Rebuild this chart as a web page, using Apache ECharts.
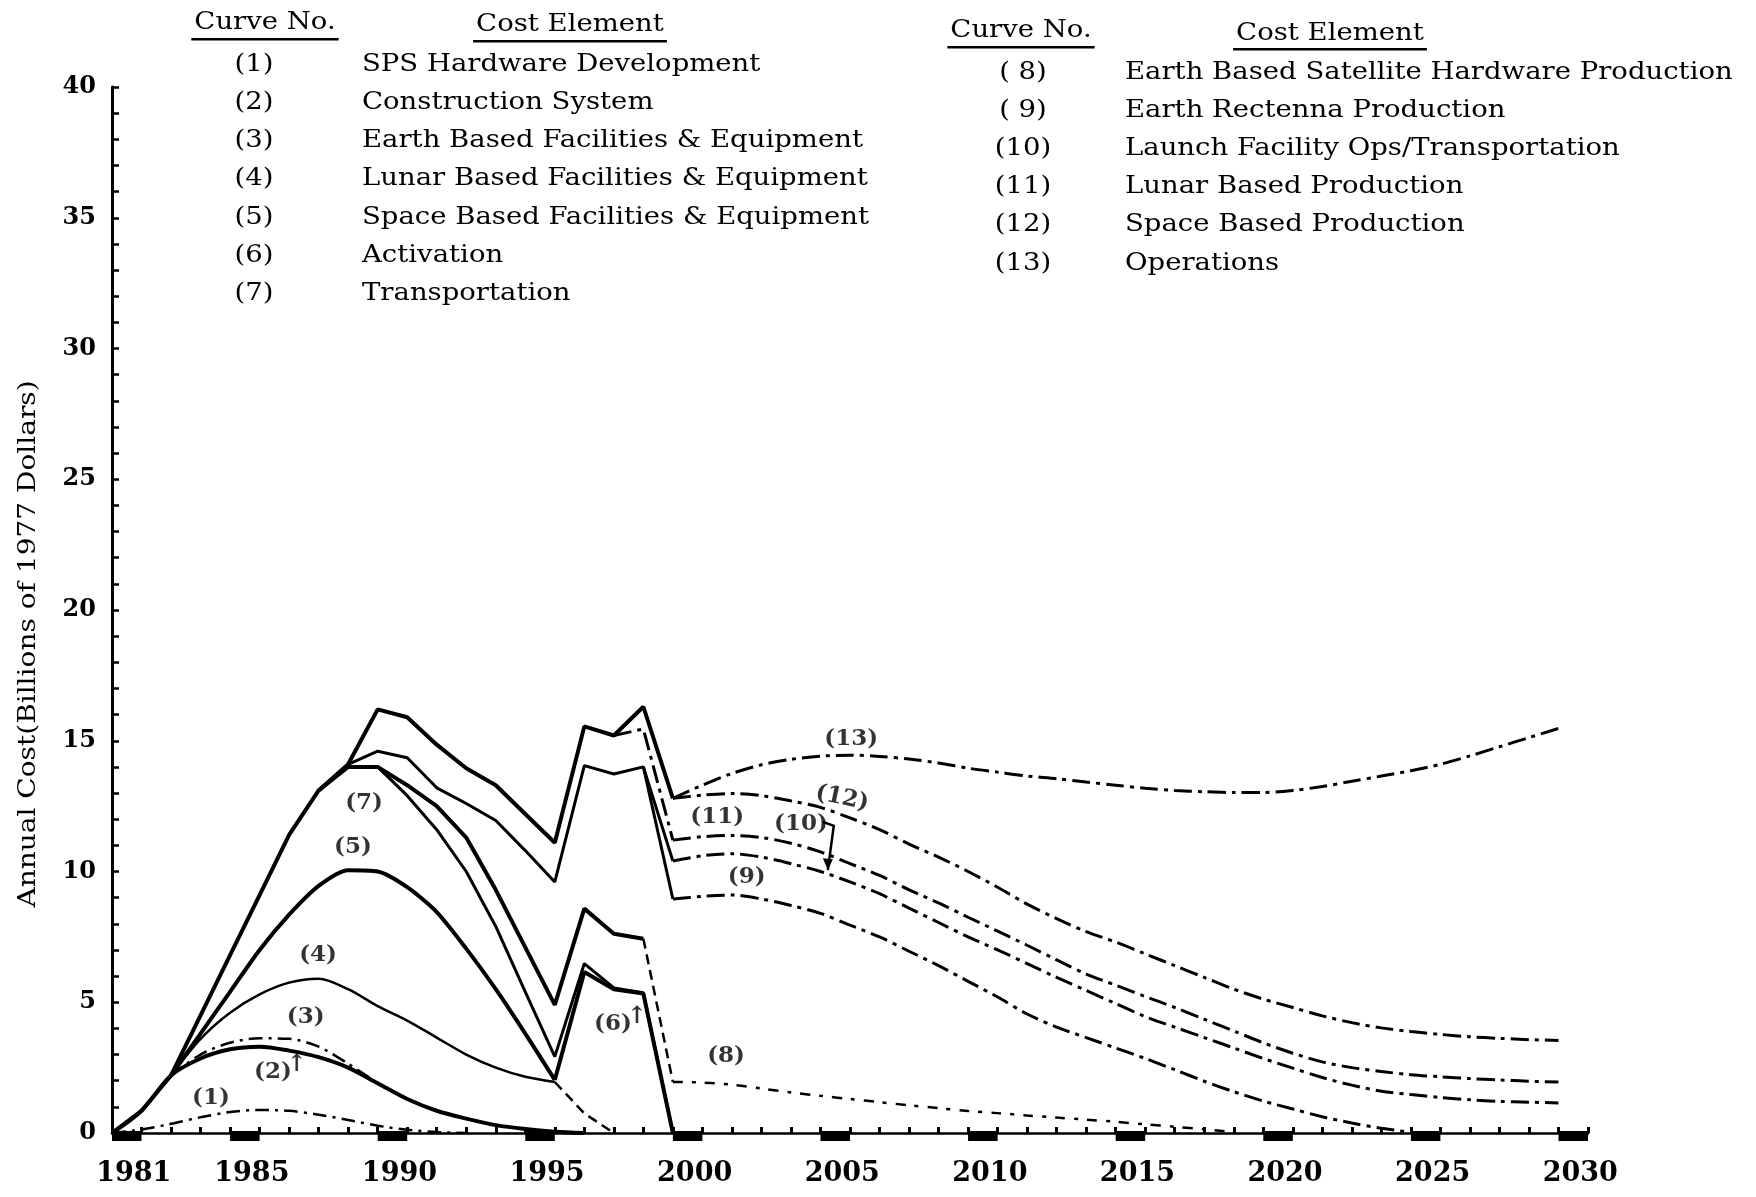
<!DOCTYPE html>
<html>
<head>
<meta charset="utf-8">
<title>SPS Annual Cost</title>
<script src="https://cdn.jsdelivr.net/npm/echarts@6/dist/echarts.min.js"></script>
<style>
  html, body { margin: 0; padding: 0; background: #fff; }
  #chart { width: 1756px; height: 1197px; }
</style>
</head>
<body>
<div id="chart"></div>
<script>
// years on the x axis, one value per year, null where a curve runs on top of another one
var years = [1981, 1982, 1983, 1984, 1985, 1986, 1987, 1988, 1989, 1990,
             1991, 1992, 1993, 1994, 1995, 1996, 1997, 1998, 1999, 2000,
             2001, 2002, 2003, 2004, 2005, 2006, 2007, 2008, 2009, 2010,
             2011, 2012, 2013, 2014, 2015, 2016, 2017, 2018, 2019, 2020,
             2021, 2022, 2023, 2024, 2025, 2026, 2027, 2028, 2029, 2030];
var labelYears = [1981, 1985, 1990, 1995, 2000, 2005, 2010, 2015, 2020, 2025, 2030];
var majorYears = [1981, 1985, 1990, 1995, 2000, 2005, 2010, 2015, 2020, 2025, 2030];

var N = null;
// cumulative cost lines (billions of 1977 dollars)
var curve1 = [0, 0.13, 0.35, 0.6, 0.8, 0.88, 0.85, 0.7, 0.5, 0.28,
              0.12, 0.04, 0, N, N, N, N, N, N, N,
              N, N, N, N, N, N, N, N, N, N, N, N, N, N, N, N, N, N, N, N, N, N, N, N, N, N, N, N, N, N];
var curve2 = [0, 0.85, 2.2, 2.85, 3.2, 3.3, 3.15, 2.9, 2.5, 1.9,
              1.3, 0.85, 0.55, 0.3, 0.15, 0.05, 0, N, N, N,
              N, N, N, N, N, N, N, N, N, N, N, N, N, N, N, N, N, N, N, N, N, N, N, N, N, N, N, N, N, N];
var curve3 = [N, N, 2.2, 3.0, 3.45, 3.62, 3.6, 3.3, 2.65, 1.9,
              N, N, N, N, N, N, N, N, N, N,
              N, N, N, N, N, N, N, N, N, N, N, N, N, N, N, N, N, N, N, N, N, N, N, N, N, N, N, N, N, N];
var curve4 = [N, N, 2.2, 3.6, 4.6, 5.3, 5.75, 5.9, 5.5, 4.85,
              4.3, 3.65, 3.0, 2.5, 2.15, 1.95, 0.75, 0, N, N,
              N, N, N, N, N, N, N, N, N, N, N, N, N, N, N, N, N, N, N, N, N, N, N, N, N, N, N, N, N, N];
var curve5 = [N, N, 2.2, 3.8, 5.4, 7.0, 8.35, 9.45, 10.05, 10.0,
              9.4, 8.45, 7.05, 5.5, 3.8, 2.03, 6.16, 5.5, 5.33, 0,
              N, N, N, N, N, N, N, N, N, N, N, N, N, N, N, N, N, N, N, N, N, N, N, N, N, N, N, N, N, N];
var curve6 = [N, N, N, N, N, N, N, N, N, 14.0,
              12.9, 11.6, 10.0, 7.9, 5.4, 2.92, 6.48, 5.55, 5.36, 0,
              N, N, N, N, N, N, N, N, N, N, N, N, N, N, N, N, N, N, N, N, N, N, N, N, N, N, N, N, N, N];
var curve7 = [N, N, N, N, N, N, N, 13.1, 14.0, 14.0,
              13.3, 12.5, 11.3, 9.3, 7.1, 4.9, 8.58, 7.62, 7.43, N,
              N, N, N, N, N, N, N, N, N, N, N, N, N, N, N, N, N, N, N, N, N, N, N, N, N, N, N, N, N, N];
var curve8 = [N, N, N, N, N, N, N, N, N, N,
              N, N, N, N, N, N, N, N, 7.43, 1.95,
              1.93, 1.85, 1.7, 1.55, 1.42, 1.3, 1.18, 1.06, 0.95, 0.84,
              0.76, 0.67, 0.59, 0.51, 0.43, 0.33, 0.24, 0.14, 0.03, N,
              N, N, N, N, N, N, N, N, N, N];
var curve9 = [N, N, N, N, N, N, N, N, N, N,
              N, N, N, N, N, N, N, N, 14.0, 8.95,
              9.05, 9.1, 8.95, 8.7, 8.4, 7.95, 7.5, 6.95, 6.4, 5.8,
              5.2, 4.55, 4.05, 3.65, 3.25, 2.85, 2.42, 1.98, 1.58, 1.22,
              0.92, 0.62, 0.38, 0.18, 0.03, N, N, N, N, N];
var curve10 = [N, N, N, N, N, N, N, N, 14.1, 14.6,
               14.35, 13.2, 12.6, 11.95, 10.8, 9.6, 14.05, 13.73, 14.0, 10.4,
               10.6, 10.68, 10.55, 10.3, 10.0, 9.6, 9.15, 8.6, 8.05, 7.5,
               7.0, 6.48, 5.95, 5.45, 4.95, 4.45, 4.05, 3.65, 3.25, 2.85,
               2.48, 2.12, 1.83, 1.6, 1.47, 1.36, 1.27, 1.21, 1.18, 1.15];
var curve11 = [N, N, N, N, N, N, N, N, N, N,
               N, N, N, N, N, N, N, 15.2, 15.45, 11.2,
               11.33, 11.38, 11.3, 11.08, 10.75, 10.3, 9.85, 9.3, 8.8, 8.25,
               7.72, 7.18, 6.62, 6.08, 5.65, 5.22, 4.8, 4.35, 3.9, 3.45,
               3.05, 2.72, 2.5, 2.35, 2.23, 2.15, 2.08, 2.03, 1.98, 1.95];
var curve12 = [N, N, N, N, N, N, N, N, N, N,
               N, N, N, N, N, N, N, N, N, 12.8,
               12.92, 12.98, 12.9, 12.7, 12.45, 12.05, 11.6, 11.05, 10.55, 10.0,
               9.4, 8.75, 8.2, 7.7, 7.3, 6.85, 6.4, 5.95, 5.5, 5.12,
               4.8, 4.48, 4.22, 4.02, 3.88, 3.77, 3.68, 3.62, 3.57, 3.54];
var curve13 = [0, 0.85, 2.2, 4.5, 6.8, 9.1, 11.4, 13.1, 14.1, 16.2,
               15.9, 14.85, 13.95, 13.3, 12.2, 11.1, 15.55, 15.2, 16.3, 12.8,
               13.3, 13.75, 14.08, 14.29, 14.41, 14.45, 14.4, 14.3, 14.15, 13.95,
               13.8, 13.65, 13.55, 13.42, 13.3, 13.18, 13.1, 13.05, 13.02, 13.02,
               13.1, 13.25, 13.45, 13.65, 13.85, 14.1, 14.42, 14.77, 15.12, 15.47];

var leftCurveNos = ['(1)', '(2)', '(3)', '(4)', '(5)', '(6)', '(7)'];
var leftElements = ['SPS Hardware Development', 'Construction System',
  'Earth Based Facilities & Equipment', 'Lunar Based Facilities & Equipment',
  'Space Based Facilities & Equipment', 'Activation', 'Transportation'];
var rightCurveNos = ['( 8)', '( 9)', '(10)', '(11)', '(12)', '(13)'];
var rightElements = ['Earth Based Satellite Hardware Production', 'Earth Rectenna Production',
  'Launch Facility Ops/Transportation', 'Lunar Based Production',
  'Space Based Production', 'Operations'];

// where the curve numbers sit in the plot (year, value)
var curveTags = ['(1)', '(2)', '(3)', '(4)', '(5)', '(6)', '(7)', '(8)', '(9)', '(10)', '(11)', '(12)', '(13)'];
var curveTagPos = [[1984.35, 1.34], [1986.45, 2.33], [1987.56, 4.43], [1987.98, 6.8], [1989.16, 10.92],
  [1997.97, 4.16], [1989.54, 12.63], [2001.8, 2.94], [2002.5, 9.8], [2004.34, 11.8],
  [2001.5, 12.1], [2005.73, 12.8], [2006.04, 15.06]];
var arrowPos = [[1987.25, 2.62], [1998.78, 4.45]];

var FONT = 'DejaVu Serif';
var solidThick = {color: '#000', width: 4, type: 'solid'};
var solidMed = {color: '#000', width: 3, type: 'solid'};
var solidThin = {color: '#000', width: 2.5, type: 'solid'};
var dashDot = {color: '#000', width: 3, type: [18, 6, 4, 6]};
var dashDotThin = {color: '#000', width: 2.5, type: [14, 6, 3, 6]};
var dashDotLight = {color: '#000', width: 2.5, type: [10, 9, 4, 9]};
var dashed = {color: '#000', width: 2.5, type: [10, 6]};

var curves = [
  {name: leftElements[0], data: curve1, seg: [[1981, 2030, dashDotThin, 0.3]]},
  {name: leftElements[1], data: curve2, seg: [[1981, 2030, solidThick, 0.3]]},
  {name: leftElements[2], data: curve3, seg: [[1981, 2030, dashDotThin, 0.3]]},
  {name: leftElements[3], data: curve4, seg: [[1981, 1996, solidThin, 0.3], [1996, 2030, dashed, 0]]},
  {name: leftElements[4], data: curve5, seg: [[1981, 1996, solidThick, 0.25], [1996, 2030, solidThick, 0]]},
  {name: leftElements[5], data: curve6, seg: [[1981, 2030, solidMed, 0]]},
  {name: leftElements[6], data: curve7, seg: [[1981, 2030, solidThick, 0]]},
  {name: rightElements[0], data: curve8, seg: [[1981, 2000, dashed, 0], [2000, 2030, dashDotLight, 0.3]]},
  {name: rightElements[1], data: curve9, seg: [[1981, 2000, solidMed, 0], [2000, 2030, dashDot, 0.3]]},
  {name: rightElements[2], data: curve10, seg: [[1981, 2000, solidMed, 0], [2000, 2030, dashDot, 0.3]]},
  {name: rightElements[3], data: curve11, seg: [[1981, 2000, dashDot, 0], [2000, 2030, dashDot, 0.3]]},
  {name: rightElements[4], data: curve12, seg: [[2000, 2030, dashDot, 0.3]]},
  {name: rightElements[5], data: curve13, seg: [[1981, 2000, solidThick, 0], [2000, 2030, dashDot, 0.3]]}
];

function pairs(arr, from, to) {
  var out = [];
  for (var i = 0; i < years.length; i++) {
    if (arr[i] == null || years[i] < from || years[i] > to) continue;
    out.push([years[i], arr[i]]);
  }
  return out;
}

var series = [];
curves.forEach(function (c) {
  c.seg.forEach(function (s) {
    var d = pairs(c.data, s[0], s[1]);
    if (d.length < 2) return;
    series.push({
      name: c.name,
      type: 'line',
      xAxisIndex: 0,
      data: d,
      showSymbol: false,
      smooth: s[3],
      silent: true,
      lineStyle: s[2],
      z: s[2].width >= 4 ? 4 : 3
    });
  });
});

// heavy five-year marks under the x axis
series.push({
  type: 'custom',
  xAxisIndex: 0,
  clip: false,
  silent: true,
  z: 6,
  data: majorYears.map(function (y) { return [y, 0]; }),
  renderItem: function (params, api) {
    var a = api.coord([api.value(0), 0]);
    var b = api.coord([api.value(0) + 1, 0]);
    return {type: 'rect', shape: {x: a[0], y: a[1] - 2, width: b[0] - a[0], height: 10}, style: {fill: '#000'}};
  }
});

// curve number tags
var tagData = curveTags.map(function (t, i) {
  return {name: t, value: curveTagPos[i], label: {rotate: t === '(12)' ? -12 : 0}};
});
arrowPos.forEach(function (p) {
  tagData.push({name: '↑', value: p, label: {fontSize: 24}});
});
series.push({
  type: 'scatter',
  xAxisIndex: 0,
  symbolSize: 1,
  itemStyle: {color: 'rgba(0,0,0,0)'},
  silent: true,
  z: 8,
  data: tagData,
  label: {
    show: true, position: 'inside', formatter: '{b}',
    fontFamily: FONT, fontWeight: 'bold', fontSize: 23, color: '#000'
  }
});

// legend table drawn as text
var graphic = [];
var legendFont = {fontFamily: FONT, fontSize: 25, fill: '#000'};
var legendScale = 1.1;
function txt(id, x, y, text, align) {
  graphic.push({
    id: id, type: 'text', x: x, y: y, scaleX: legendScale, silent: true,
    style: Object.assign({text: text, align: align, verticalAlign: 'middle'}, legendFont)
  });
}
function header(id, cx, y, text, ulY) {
  txt(id, cx, y, text, 'center');
  var ctx = document.createElement('canvas').getContext('2d');
  ctx.font = legendFont.fontSize + 'px "' + FONT + '"';
  var w = ctx.measureText(text).width * legendScale + 6;
  graphic.push({id: id + '_u', type: 'rect', silent: true,
    shape: {x: cx - w / 2, y: ulY, width: w, height: 2.5}, style: {fill: '#000'}});
}
header('hl1', 265, 22, 'Curve No.', 38);
header('hl2', 570, 24, 'Cost Element', 40);
header('hr1', 1021, 30, 'Curve No.', 46);
header('hr2', 1330, 33, 'Cost Element', 48);
leftCurveNos.forEach(function (t, i) {
  txt('ln' + i, 254, 64 + i * 38.3, t, 'center');
  txt('le' + i, 362, 64 + i * 38.3, leftElements[i], 'left');
});
rightCurveNos.forEach(function (t, i) {
  txt('rn' + i, 1023, 72 + i * 38.2, t, 'center');
  txt('re' + i, 1125, 72 + i * 38.2, rightElements[i], 'left');
});
graphic.push({
  id: 'ytitle', type: 'text', x: 28, y: 644, rotation: Math.PI / 2, scaleX: 1.12, silent: true,
  style: {text: 'Annual Cost(Billions of 1977 Dollars)', fontFamily: FONT, fontSize: 25,
    fill: '#000', align: 'center', verticalAlign: 'middle'}
});

var option = {
  backgroundColor: '#fff',
  animation: false,
  grid: {left: 112, right: 168, top: 87, bottom: 64},
  xAxis: [{
    type: 'value', min: 1981, max: 2031, interval: 1,
    axisLine: {show: true, lineStyle: {color: '#000', width: 2.5}},
    axisTick: {show: true, inside: true, length: 6, lineStyle: {color: '#000', width: 3}},
    axisLabel: {show: false},
    splitLine: {show: false}
  }, {
    type: 'category', data: years, position: 'bottom', boundaryGap: true,
    axisLine: {show: false}, axisTick: {show: false}, splitLine: {show: false},
    axisLabel: {
      interval: function (idx, val) { return labelYears.indexOf(Number(val)) >= 0; },
      margin: 27, padding: [0, 0, 0, 14],
      fontFamily: FONT, fontWeight: 'bold', fontSize: 27, color: '#000'
    }
  }],
  yAxis: {
    type: 'value', min: 0, max: 40, interval: 5,
    axisLine: {show: true, lineStyle: {color: '#000', width: 3}},
    axisTick: {show: true, inside: true, length: 7, lineStyle: {color: '#000', width: 2.5}},
    minorTick: {show: true, splitNumber: 5, length: 7, lineStyle: {color: '#000', width: 2.5}},
    splitLine: {show: false},
    axisLabel: {margin: 16, fontFamily: FONT, fontWeight: 'bold', fontSize: 24, color: '#000'}
  },
  graphic: graphic,
  series: series
};

var myChart = echarts.init(document.getElementById('chart'));
myChart.setOption(option);

// bracket arrow from the (10) tag down to its band
var grid0 = {xAxisIndex: 0, yAxisIndex: 0};
var b1 = myChart.convertToPixel(grid0, [2005.08, 11.9]);
var b2 = myChart.convertToPixel(grid0, [2005.45, 11.75]);
var b3 = myChart.convertToPixel(grid0, [2005.25, 10.05]);
myChart.setOption({
  graphic: [{
    id: 'br10', type: 'polyline', silent: true,
    shape: {points: [b1, b2, b3]}, style: {stroke: '#000', lineWidth: 2.5, fill: null}
  }, {
    id: 'br10h', type: 'polygon', silent: true,
    shape: {points: [[b3[0], b3[1]], [b3[0] - 5, b3[1] - 12], [b3[0] + 5, b3[1] - 11]]},
    style: {fill: '#000'}
  }]
});
</script>
</body>
</html>
